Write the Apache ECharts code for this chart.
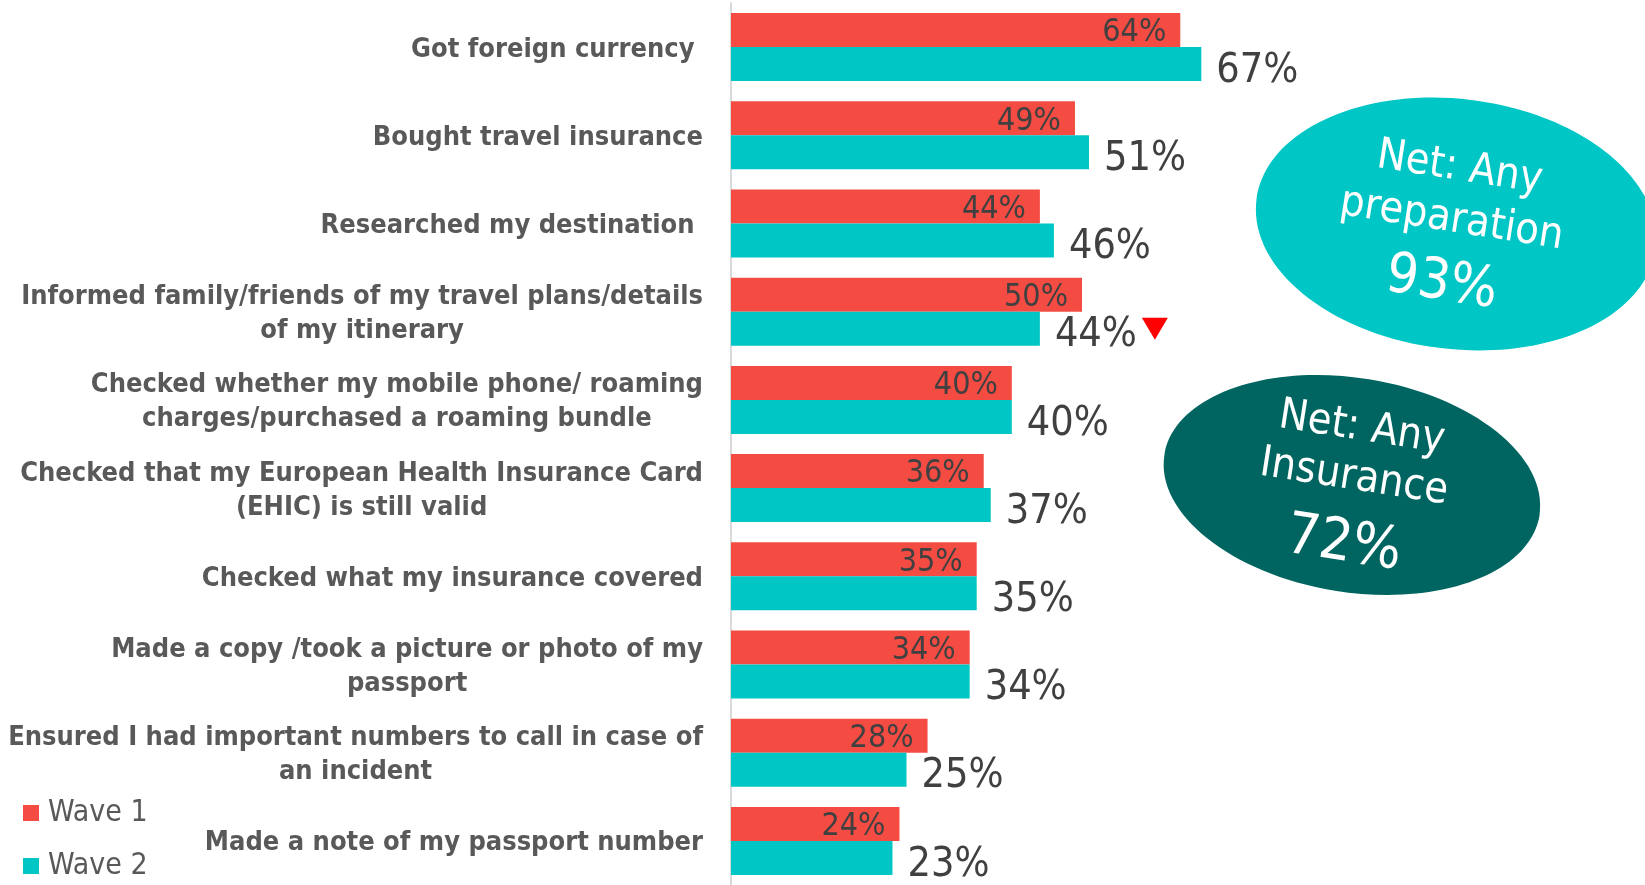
<!DOCTYPE html>
<html>
<head>
<meta charset="utf-8">
<script src="https://cdn.jsdelivr.net/npm/echarts@6/dist/echarts.min.js"></script>
<style>
html, body { margin: 0; padding: 0; background: #fff; }
#chart { width: 1645px; height: 885px; }
</style>
</head>
<body>
<div id="chart"></div>
<script>
// categories, top to bottom
var categories = [
	'Got foreign currency ',
	'Bought travel insurance',
	'Researched my destination ',
	'Informed family/friends of my travel plans/details\nof my itinerary',
	'Checked whether my mobile phone/ roaming\ncharges/purchased a roaming bundle',
	'Checked that my European Health Insurance Card\n(EHIC) is still valid',
	'Checked what my insurance covered',
	'Made a copy /took a picture or photo of my\npassport',
	'Ensured I had important numbers to call in case of\nan incident',
	'Made a note of my passport number'
];
var wave1 = [64, 49, 44, 50, 40, 36, 35, 34, 28, 24];
var wave2 = [67, 51, 46, 44, 40, 37, 35, 34, 25, 23];
// rows where wave 2 is significantly lower
var dropRows = [3];
var netPrep = 93;
var netInsurance = 72;

var numFont = '"DejaVu Sans Condensed", sans-serif';
var textFont = '"DejaVu Sans Condensed", "DejaVu Sans", sans-serif';

var chartObj = echarts.init(document.getElementById('chart'));

var markData = [];
for (var i = 0; i < dropRows.length; i++) {
	markData.push({ coord: [wave2[dropRows[i]], dropRows[i]] });
}

var option = {
	animation: false,
	grid: {
		left: 731,
		top: 3,
		width: 702,
		height: 886
	},
	legend: {
		orient: 'vertical',
		left: 23,
		top: 798,
		padding: 0,
		itemWidth: 16,
		itemHeight: 16,
		itemGap: 23,
		icon: 'rect',
		textStyle: {
			color: '#595959',
			fontSize: 30,
			fontFamily: textFont,
			padding: [0, 0, 0, 4]
		},
		data: ['Wave 1', 'Wave 2']
	},
	xAxis: {
		type: 'value',
		min: 0,
		max: 100,
		show: false
	},
	yAxis: {
		type: 'category',
		inverse: true,
		data: categories,
		axisLine: { show: true, lineStyle: { color: '#d9d9d9', width: 2 } },
		axisTick: { show: false },
		axisLabel: {
			margin: 28,
			color: '#595959',
			fontSize: 27,
			fontWeight: 'bold',
			fontFamily: textFont,
			lineHeight: 34,
			formatter: function(v) {
				return v.split('\n').map(function(s) { return '{c|' + s + '}'; }).join('\n');
			},
			rich: {
				c: {
					align: 'center',
					color: '#595959',
					fontSize: 27,
					fontWeight: 'bold',
					fontFamily: textFont,
					lineHeight: 34,
					padding: [5, 0, 0, 0]
				}
			}
		}
	},
	series: [{
			name: 'Wave 1',
			type: 'bar',
			barWidth: 34,
			barGap: '0%',
			itemStyle: { color: '#f44c43' },
			label: {
				show: true,
				position: 'insideRight',
				distance: 14,
				offset: [0, 3],
				formatter: '{c}%',
				color: '#404040',
				fontSize: 32,
				fontFamily: numFont
			},
			data: wave1
		},
		{
			name: 'Wave 2',
			type: 'bar',
			barWidth: 34,
			barGap: '0%',
			itemStyle: { color: '#00c6c5' },
			label: {
				show: true,
				position: 'right',
				distance: 15,
				offset: [0, 7],
				formatter: '{c}%',
				color: '#404040',
				fontSize: 41,
				fontFamily: numFont
			},
			markPoint: {
				symbol: 'triangle',
				symbolRotate: 180,
				symbolSize: [26, 22],
				symbolOffset: [115, 0],
				itemStyle: { color: '#ff0000' },
				label: { show: false },
				data: markData
			},
			data: wave2
		}
	],
	graphic: [{
			type: 'ellipse',
			x: 1456,
			y: 224,
			rotation: -0.12,
			shape: { cx: 0, cy: 0, rx: 201, ry: 125 },
			style: { fill: '#00c6c5' }
		},
		{
			type: 'group',
			x: 1451,
			y: 224,
			rotation: -0.155,
			children: [
				{ type: 'text', x: 0, y: -56, style: { text: 'Net: Any', fill: '#fff', font: '43px ' + textFont, align: 'center', verticalAlign: 'middle' } },
				{ type: 'text', x: 0, y: -4, style: { text: 'preparation', fill: '#fff', font: '43px ' + textFont, align: 'center', verticalAlign: 'middle' } },
				{ type: 'text', x: 0, y: 61, style: { text: netPrep + '%', fill: '#fff', font: '56px ' + numFont, align: 'center', verticalAlign: 'middle' } }
			]
		},
		{
			type: 'ellipse',
			x: 1352,
			y: 485,
			rotation: -0.16,
			shape: { cx: 0, cy: 0, rx: 190, ry: 107 },
			style: { fill: '#006560' }
		},
		{
			type: 'group',
			x: 1353,
			y: 485,
			rotation: -0.155,
			children: [
				{ type: 'text', x: 0, y: -57, style: { text: 'Net: Any', fill: '#fff', font: '43px ' + textFont, align: 'center', verticalAlign: 'middle' } },
				{ type: 'text', x: 0, y: -7, style: { text: 'Insurance', fill: '#fff', font: '43px ' + textFont, align: 'center', verticalAlign: 'middle' } },
				{ type: 'text', x: 0, y: 61, style: { text: netInsurance + '%', fill: '#fff', font: '58px ' + numFont, align: 'center', verticalAlign: 'middle' } }
			]
		}
	]
};
chartObj.setOption(option);
</script>
</body>
</html>
